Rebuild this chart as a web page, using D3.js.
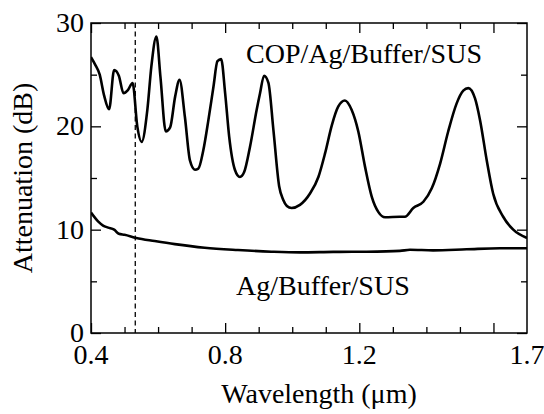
<!DOCTYPE html>
<html>
<head>
<meta charset="utf-8">
<script src="https://cdn.jsdelivr.net/npm/d3@7"></script>
<style>
  html, body { margin: 0; padding: 0; background: #fff; }
  #chart text { font-family: "Liberation Serif", "Times New Roman", Tinos, serif; }
</style>
</head>
<body>
<svg id="chart" width="544" height="414"></svg>
<script>
// ---- data ----
const copWavelength = [0.400,0.412,0.426,0.439,0.454,0.469,0.483,0.497,0.510,0.524,0.538,0.551,0.568,0.580,0.595,0.607,0.623,0.636,0.651,0.664,0.680,0.695,0.710,0.720,0.735,0.750,0.765,0.777,0.788,0.800,0.812,0.829,0.844,0.857,0.874,0.894,0.904,0.916,0.929,0.944,0.961,0.973,0.984,0.998,1.023,1.053,1.078,1.098,1.118,1.137,1.157,1.177,1.197,1.217,1.237,1.257,1.277,1.321,1.336,1.361,1.391,1.416,1.441,1.465,1.490,1.510,1.525,1.545,1.560,1.580,1.599,1.629,1.659,1.700];
const copAttenuation = [26.7,26.0,25.0,23.0,21.65,25.45,24.9,23.2,23.5,24.2,20.0,18.5,21.6,25.8,28.7,24.8,19.5,19.9,22.9,24.5,20.9,16.7,15.8,15.9,17.7,20.6,23.8,26.3,26.5,23.2,19.0,15.8,15.1,15.6,18.0,21.6,23.2,24.9,24.2,19.6,14.2,12.9,12.3,12.1,12.4,13.5,15.1,17.4,20.1,21.9,22.5,21.6,19.5,16.1,13.2,11.7,11.2,11.25,11.25,12.1,12.7,14.0,16.4,19.5,22.2,23.45,23.7,22.7,20.6,16.7,13.5,11.25,10.0,9.2];
const agWavelength = [0.400,0.421,0.436,0.451,0.469,0.483,0.500,0.535,0.590,0.650,0.739,0.838,0.938,1.023,1.122,1.222,1.321,1.351,1.420,1.520,1.619,1.700];
const agAttenuation = [11.65,10.8,10.4,10.2,10.0,9.6,9.5,9.2,8.9,8.6,8.25,8.03,7.87,7.8,7.85,7.87,7.95,8.05,8.0,8.1,8.2,8.2];
const markerWavelength = 0.532;
const xMajorTicks = [0.4, 0.8, 1.2, 1.6];
const xMinorTicks = [0.5, 0.6, 0.7, 0.9, 1.0, 1.1, 1.3, 1.4, 1.5];
const xTickLabels = [0.4, 0.8, 1.2, 1.7];
const yMajorTicks = [0, 10, 20, 30];
const yMinorTicks = [5, 15, 25];
const seriesLabels = ["COP/Ag/Buffer/SUS", "Ag/Buffer/SUS"];
const xTitle = "Wavelength (\u03bcm)";
const yTitle = "Attenuation (dB)";

// ---- layout ----
const L = 91, R = 527, T = 23, B = 333;
const FS = 28;
const svg = d3.select("#chart");
const x = d3.scaleLinear().domain([0.4, 1.7]).range([L, R]);
const y = d3.scaleLinear().domain([0, 30]).range([B, T]);

// curves
const line = d3.line().x(d => x(d[0])).y(d => y(d[1])).curve(d3.curveMonotoneX);
const cop = copWavelength.map((w, i) => [w, copAttenuation[i]]);
const ag = agWavelength.map((w, i) => [w, agAttenuation[i]]);

svg.append("clipPath").attr("id", "clip")
  .append("rect").attr("x", L).attr("y", T).attr("width", R - L).attr("height", B - T);

// dashed marker
svg.append("line")
  .attr("x1", x(markerWavelength)).attr("x2", x(markerWavelength))
  .attr("y1", T).attr("y2", B)
  .attr("stroke", "#000").attr("stroke-width", 1.3).attr("stroke-dasharray", "5,3.5");

const g = svg.append("g").attr("clip-path", "url(#clip)");
g.append("path").datum(cop).attr("d", line)
  .attr("fill", "none").attr("stroke", "#000").attr("stroke-width", 2.6).attr("stroke-linejoin", "round");
g.append("path").datum(ag).attr("d", line)
  .attr("fill", "none").attr("stroke", "#000").attr("stroke-width", 2.6).attr("stroke-linejoin", "round");

// axes (ticks pointing inward)
function addAxis(axisGen, tx, ty) {
  const a = svg.append("g").attr("transform", `translate(${tx},${ty})`).call(axisGen);
  a.select(".domain").remove();
  a.selectAll("text").remove();
  a.selectAll("line").attr("stroke", "#000").attr("stroke-width", 1.3);
  return a;
}
addAxis(d3.axisBottom(x).tickValues(xMajorTicks).tickSize(-10), 0, B);
addAxis(d3.axisBottom(x).tickValues(xMinorTicks).tickSize(-6), 0, B);
addAxis(d3.axisTop(x).tickValues(xMajorTicks).tickSize(-10), 0, T);
addAxis(d3.axisTop(x).tickValues(xMinorTicks).tickSize(-6), 0, T);
addAxis(d3.axisLeft(y).tickValues(yMajorTicks).tickSize(-10), L, 0);
addAxis(d3.axisLeft(y).tickValues(yMinorTicks).tickSize(-6), L, 0);
addAxis(d3.axisRight(y).tickValues(yMajorTicks).tickSize(-10), R, 0);
addAxis(d3.axisRight(y).tickValues(yMinorTicks).tickSize(-6), R, 0);

// frame
svg.append("rect").attr("x", L).attr("y", T).attr("width", R - L).attr("height", B - T)
  .attr("fill", "none").attr("stroke", "#000").attr("stroke-width", 1.5);

const labels = svg.append("g");
function txt(sel) {
  return sel.style("font-family", "Liberation Serif").attr("font-size", FS).attr("fill", "#000");
}

// tick labels
txt(labels.selectAll(".xl").data(xTickLabels).enter().append("text").attr("class", "xl"))
  .attr("x", d => x(d)).attr("y", 364).attr("text-anchor", "middle")
  .text(d => d3.format(".1f")(d));
txt(labels.selectAll(".yl").data(yMajorTicks).enter().append("text").attr("class", "yl"))
  .attr("x", 84).attr("y", d => y(d) + 9).attr("text-anchor", "end")
  .text(d => d);

// series labels
txt(labels.append("text")).attr("x", 246).attr("y", 63).text(seriesLabels[0]);
txt(labels.append("text")).attr("x", 236).attr("y", 295).text(seriesLabels[1]);

// titles
txt(labels.append("text")).attr("x", 319).attr("y", 403).attr("text-anchor", "middle").text(xTitle);
txt(labels.append("text")).attr("transform", `translate(32,${(T + B) / 2}) rotate(-90)`)
  .attr("text-anchor", "middle").text(yTitle);
</script>
</body>
</html>
